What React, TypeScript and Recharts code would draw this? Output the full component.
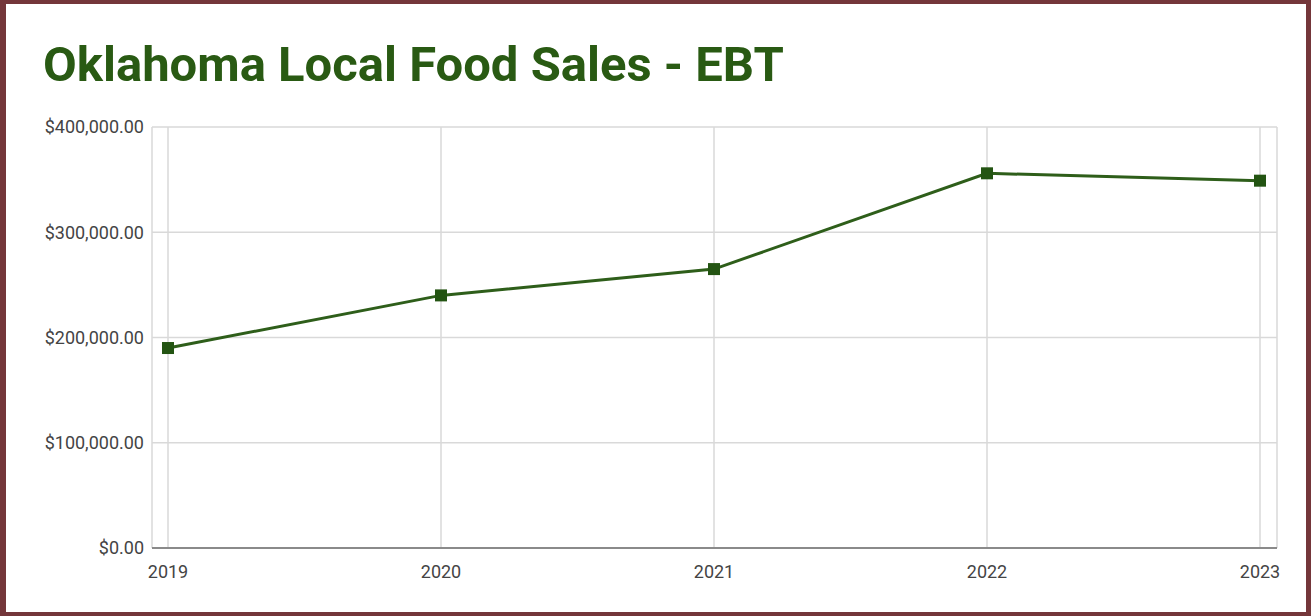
import React from 'react';
import { LineChart, Line, XAxis, YAxis, CartesianGrid } from 'recharts';

const years = ['2019', '2020', '2021', '2022', '2023'];
const ebtSales = [190000, 240000, 265000, 356000, 349000];
const yTicks = [0, 100000, 200000, 300000, 400000];

const data = years.map((y, i) => ({ year: y, sales: ebtSales[i] }));

const fmt = (v: number) =>
  '$' + v.toLocaleString('en-US', { minimumFractionDigits: 2, maximumFractionDigits: 2 });

const SquareDot = (props: any) => {
  const { cx, cy, index } = props;
  if (cx == null || cy == null) return null;
  const s = 12;
  return <rect key={`d${index}`} x={cx - s / 2} y={cy - s / 2} width={s} height={s} fill="#235412" />;
};

export default function App() {
  return (
    <div
      style={{
        position: 'absolute',
        top: 0,
        left: 0,
        width: 1311,
        height: 616,
        background: '#fff',
        fontFamily: 'Roboto, sans-serif',
        overflow: 'hidden',
      }}
    >
      <div
        style={{
          position: 'absolute',
          left: 43,
          top: 36,
          fontSize: 49,
          fontWeight: 700,
          color: '#295a13',
          fontFamily: 'Roboto, sans-serif',
          lineHeight: 1.2,
          whiteSpace: 'nowrap',
        }}
      >
        Oklahoma Local Food Sales - EBT
      </div>
      <div style={{ position: 'absolute', left: 0, top: 0 }}>
        <LineChart
          width={1311}
          height={616}
          data={data}
          margin={{ top: 127, right: 34, bottom: 38, left: 0 }}
        >
          <CartesianGrid stroke="#d9d9d9" strokeWidth={1.5} />
          <XAxis
            dataKey="year"
            height={30}
            padding={{ left: 16, right: 17 }}
            tickLine={false}
            tickMargin={11}
            axisLine={{ stroke: '#8a8a8a', strokeWidth: 2 }}
            tick={{ fill: '#444', fontSize: 18, fontFamily: 'Roboto, sans-serif' }}
          />
          <YAxis
            width={152}
            domain={[0, 400000]}
            ticks={yTicks}
            tickFormatter={fmt}
            tickLine={false}
            axisLine={false}
            tick={{ fill: '#444', fontSize: 18, fontFamily: 'Roboto, sans-serif' }}
          />
          <Line
            type="linear"
            dataKey="sales"
            stroke="#2e5e1a"
            strokeWidth={3}
            dot={SquareDot}
            activeDot={false}
            isAnimationActive={false}
          />
        </LineChart>
      </div>
      <div
        style={{
          position: 'absolute',
          left: 0,
          top: 0,
          width: 1311,
          height: 616,
          boxSizing: 'border-box',
          borderStyle: 'solid',
          borderColor: '#74363a',
          borderWidth: '4px 5px 4px 6px',
          pointerEvents: 'none',
        }}
      />
    </div>
  );
}
